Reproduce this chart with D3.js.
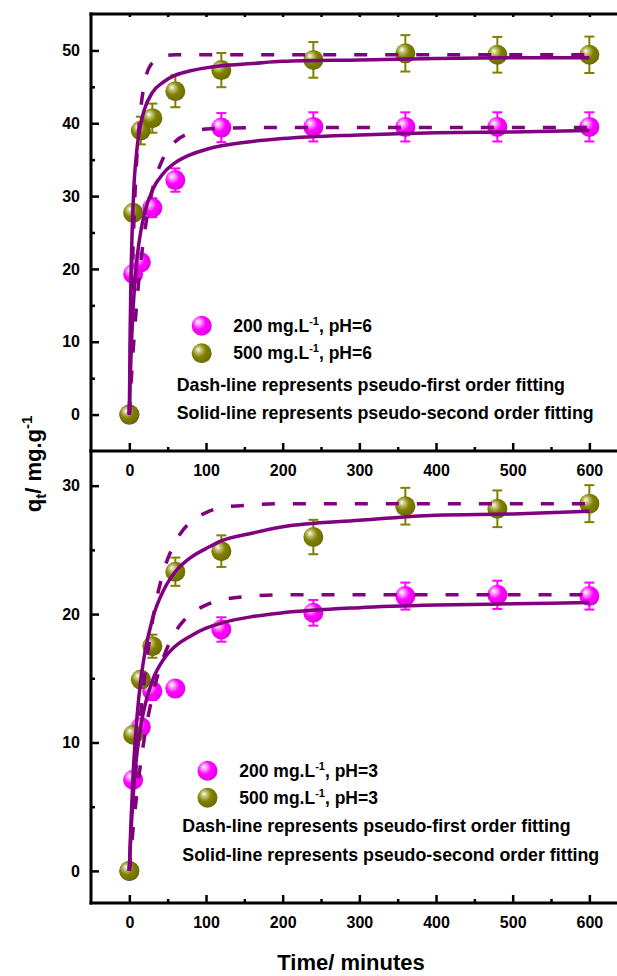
<!DOCTYPE html>
<html>
<head>
<meta charset="utf-8">
<script src="https://d3js.org/d3.v7.min.js"></script>
<style>
body { margin: 0; background: #fff; }
svg { display: block; font-family: Arial, "Liberation Sans", sans-serif; font-weight: bold; }
</style>
</head>
<body>
<svg id="viz" width="617" height="976"></svg>
<script>
// sampling times, minutes
var times = [0, 5, 15, 30, 60, 120, 240, 360, 480, 600];

// pH = 6 (upper panel)
var q200pH6 = [0, 19.3, 20.9, 28.4, 32.2, 39.4, 39.5, 39.5, 39.5, 39.5];
var err200pH6 = [0, 0.5, 0.5, 1.3, 1.6, 2.0, 2.0, 2.0, 2.0, 2.0];
var q500pH6 = [0, 27.7, 39.0, 40.7, 44.4, 47.3, 48.7, 49.6, 49.4, 49.4];
var err500pH6 = [0, 0.8, 1.9, 2.0, 2.2, 2.35, 2.45, 2.5, 2.45, 2.5];

// pH = 3 (lower panel)
var q200pH3 = [0, 7.1, 11.2, 14.0, 14.2, 18.8, 20.1, 21.4, 21.5, 21.4];
var err200pH3 = [0, 0.3, 0.6, 0.7, 0, 0.95, 1.0, 1.05, 1.1, 1.05];
var q500pH3 = [0, 10.6, 14.9, 17.5, 23.3, 24.9, 26.0, 28.4, 28.2, 28.6];
var err500pH3 = [0, 0.5, 0.6, 0.9, 1.1, 1.23, 1.34, 1.43, 1.43, 1.44];

// fitted curves
var fitTimes = [0, 1, 2, 5, 10, 15, 20, 30, 45, 60, 80, 100, 120, 160, 200, 300, 400, 500, 600];
var pfo200pH6 = [0, 1.9, 3.8, 8.8, 15.7, 21.0, 25.1, 30.8, 35.4, 37.5, 38.7, 39.2, 39.3, 39.4, 39.4, 39.4, 39.4, 39.4, 39.4];
var pfo500pH6 = [0, 5.9, 11.2, 23.4, 35.7, 42.1, 45.6, 48.3, 49.2, 49.4, 49.4, 49.4, 49.4, 49.4, 49.4, 49.4, 49.4, 49.4, 49.4];
var pso200pH6 = [0, 4.2, 7.5, 14.7, 21.4, 25.2, 27.7, 30.8, 33.2, 34.6, 35.7, 36.4, 36.9, 37.5, 37.9, 38.4, 38.7, 38.8, 39.0];
var pso500pH6 = [0, 11.0, 17.9, 29.0, 36.5, 40.0, 42.0, 44.2, 45.7, 46.6, 47.2, 47.6, 47.9, 48.2, 48.5, 48.7, 48.9, 49.0, 49.0];
var pfo200pH3 = [0, 0.7, 1.4, 3.3, 6.1, 8.5, 10.5, 13.6, 16.7, 18.6, 20.0, 20.7, 21.1, 21.4, 21.5, 21.5, 21.5, 21.5, 21.5];
var pfo500pH3 = [0, 1.1, 2.1, 4.9, 9.0, 12.4, 15.1, 19.4, 23.4, 25.6, 27.2, 27.9, 28.3, 28.5, 28.6, 28.6, 28.6, 28.6, 28.6];
var pso200pH3 = [0, 1.5, 2.8, 5.8, 9.2, 11.3, 12.8, 14.8, 16.5, 17.5, 18.3, 18.9, 19.3, 19.8, 20.1, 20.5, 20.7, 20.8, 20.9];
var pso500pH3 = [0, 1.9, 3.6, 7.6, 12.0, 14.9, 16.9, 19.6, 21.9, 23.3, 24.4, 25.1, 25.7, 26.3, 26.8, 27.3, 27.7, 27.8, 28.0];

var xTicks = [0, 100, 200, 300, 400, 500, 600];
var xMinor = [50, 150, 250, 350, 450, 550];
var xTopTicks = [0, 50, 100, 150, 200, 250, 300, 350, 400, 450, 500, 550, 600];
var yTicksTop = [0, 10, 20, 30, 40, 50];
var yMinorTop = [5, 15, 25, 35, 45];
var yTicksBottom = [0, 10, 20, 30];
var yMinorBottom = [5, 15, 25];

var svg = d3.select("#viz");
var lineColor = "#800080";
var colors = {m: "#ff00ff", o: "#808000"};

// sphere look for the markers
var defs = svg.append("defs");
function ball(id, light, base, dark) {
    var g = defs.append("radialGradient").attr("id", id)
        .attr("cx", "40%").attr("cy", "40%").attr("r", "62%")
        .attr("fx", "32%").attr("fy", "30%");
    g.append("stop").attr("offset", "0%").attr("stop-color", "#ffffff");
    g.append("stop").attr("offset", "22%").attr("stop-color", light);
    g.append("stop").attr("offset", "55%").attr("stop-color", base);
    g.append("stop").attr("offset", "100%").attr("stop-color", dark);
}
ball("ballM", "#ff9cff", "#ff00ff", "#e400e4");
ball("ballO", "#c4c47a", "#808000", "#6c6c00");

var x = d3.scaleLinear().domain([-50, 650]).range([91, 627.7]);

function panel(cfg) {
    var y = d3.scaleLinear().domain(cfg.yDomain).range(cfg.yRange);
    var g = svg.append("g");
    var top = cfg.yRange[1], bottom = cfg.yRange[0];

    // left axis: major + minor ticks pointing in
    g.append("g").attr("class", "y axis")
        .attr("transform", "translate(" + x(-50) + ",0)")
        .call(d3.axisLeft(y).tickValues(cfg.yTicks).tickSize(-8).tickPadding(11).tickFormat(d3.format("d")));
    g.append("g").attr("class", "y minor")
        .attr("transform", "translate(" + x(-50) + ",0)")
        .call(d3.axisLeft(y).tickValues(cfg.yMinor).tickSize(-4).tickFormat(""));

    // bottom axis: ticks up, labels below
    g.append("g").attr("class", "x axis")
        .attr("transform", "translate(0," + bottom + ")")
        .call(d3.axisBottom(x).tickValues(xTicks).tickSize(-8).tickPadding(13.5).tickFormat(cfg.xLabels ? d3.format("d") : ""));
    g.append("g").attr("class", "x minor")
        .attr("transform", "translate(0," + bottom + ")")
        .call(d3.axisBottom(x).tickValues(xMinor).tickSize(-4).tickFormat(""));

    if (cfg.topAxis) {
        g.append("g").attr("class", "x minor")
            .attr("transform", "translate(0," + top + ")")
            .call(d3.axisTop(x).tickValues(xTopTicks).tickSize(-3).tickFormat(""));
    }
    g.selectAll(".domain").remove();
    g.selectAll(".tick line").attr("stroke", "#000").attr("stroke-width", 2.5);
    g.selectAll(".tick text").attr("font-size", 16).attr("font-weight", "bold")
        .attr("font-family", "Arial, 'Liberation Sans', sans-serif").attr("fill", "#000");

    // frame lines
    g.append("line").attr("x1", x(-50)).attr("x2", x(-50)).attr("y1", top - 1.5).attr("y2", bottom + 1.5)
        .attr("stroke", "#000").attr("stroke-width", 3);
    g.append("line").attr("x1", x(-50) - 1.5).attr("x2", x(650)).attr("y1", bottom).attr("y2", bottom)
        .attr("stroke", "#000").attr("stroke-width", 3);
    if (cfg.topAxis) {
        g.append("line").attr("x1", x(-50) - 1.5).attr("x2", x(650)).attr("y1", top).attr("y2", top)
            .attr("stroke", "#000").attr("stroke-width", 3);
    }

    // points with error bars
    cfg.series.forEach(function(s) {
        var pts = times.map(function(t, i) { return {t: t, q: s.q[i], e: s.e[i]}; });
        var eg = g.append("g").attr("stroke", s.color).attr("stroke-width", 2);
        pts.filter(function(d) { return d.e > 0.4; }).forEach(function(d) {
            eg.append("line").attr("x1", x(d.t)).attr("x2", x(d.t)).attr("y1", y(d.q - d.e)).attr("y2", y(d.q + d.e));
            eg.append("line").attr("x1", x(d.t) - 5).attr("x2", x(d.t) + 5).attr("y1", y(d.q - d.e)).attr("y2", y(d.q - d.e));
            eg.append("line").attr("x1", x(d.t) - 5).attr("x2", x(d.t) + 5).attr("y1", y(d.q + d.e)).attr("y2", y(d.q + d.e));
        });
    });
    cfg.series.forEach(function(s) {
        g.append("g").selectAll("circle")
            .data(times.map(function(t, i) { return {t: t, q: s.q[i]}; }))
            .enter().append("circle")
            .attr("cx", function(d) { return x(d.t); })
            .attr("cy", function(d) { return y(d.q); })
            .attr("r", 10)
            .attr("fill", "url(#" + s.grad + ")");
    });

    // fitted curves
    var line = d3.line()
        .x(function(d) { return x(d[0]); })
        .y(function(d) { return y(d[1]); })
        .curve(d3.curveMonotoneX);
    cfg.fits.forEach(function(f) {
        g.append("path")
            .datum(fitTimes.map(function(t, i) { return [t, f.q[i]]; }))
            .attr("d", line)
            .attr("fill", "none")
            .attr("stroke", lineColor)
            .attr("stroke-width", 3.5)
            .attr("stroke-dasharray", f.dash ? "13,18" : null);
    });

    // legend
    var L = cfg.legend;
    cfg.series.forEach(function(s, i) {
        g.append("circle").attr("cx", L.ballX).attr("cy", L.ballY[i]).attr("r", 10)
            .attr("fill", "url(#" + s.grad + ")");
        var t = g.append("text").attr("x", L.textX).attr("y", L.textY[i]).attr("font-size", 17.5);
        t.append("tspan").text(s.conc + " mg.L");
        t.append("tspan").attr("font-size", 11).attr("dy", -7).text("-1");
        t.append("tspan").attr("dy", 7).text(", pH=" + cfg.pH);
    });
    g.append("text").attr("x", L.noteX).attr("y", L.noteY[0]).attr("font-size", 17.8)
        .text("Dash-line represents pseudo-first order fitting");
    g.append("text").attr("x", L.noteX).attr("y", L.noteY[1]).attr("font-size", 17.8)
        .text("Solid-line represents pseudo-second order fitting");
}

panel({
    yDomain: [-5, 55], yRange: [451, 14],
    yTicks: yTicksTop, yMinor: yMinorTop,
    xLabels: true, topAxis: true, pH: 6,
    series: [
        {q: q200pH6, e: err200pH6, color: colors.m, grad: "ballM", conc: "200"},
        {q: q500pH6, e: err500pH6, color: colors.o, grad: "ballO", conc: "500"}
    ],
    fits: [
        {q: pfo200pH6, dash: true}, {q: pfo500pH6, dash: true},
        {q: pso200pH6, dash: false}, {q: pso500pH6, dash: false}
    ],
    legend: {ballX: 201.7, ballY: [325.7, 353.3], textX: 233.3, textY: [331.7, 359.3], noteX: 176.7, noteY: [390.7, 419]}
});

panel({
    yDomain: [-2.5, 32.7], yRange: [903, 451],
    yTicks: yTicksBottom, yMinor: yMinorBottom,
    xLabels: true, topAxis: false, pH: 3,
    series: [
        {q: q200pH3, e: err200pH3, color: colors.m, grad: "ballM", conc: "200"},
        {q: q500pH3, e: err500pH3, color: colors.o, grad: "ballO", conc: "500"}
    ],
    fits: [
        {q: pfo200pH3, dash: true}, {q: pfo500pH3, dash: true},
        {q: pso200pH3, dash: false}, {q: pso500pH3, dash: false}
    ],
    legend: {ballX: 207.5, ballY: [770.7, 797.7], textX: 239.3, textY: [776.7, 804.3], noteX: 182.3, noteY: [831.7, 860.7]}
});

// axis titles
svg.append("text").attr("x", 351).attr("y", 970).attr("text-anchor", "middle")
    .attr("font-size", 22).text("Time/ minutes");

var yt = svg.append("text").attr("transform", "translate(41,464) rotate(-90)")
    .attr("text-anchor", "middle").attr("font-size", 22);
yt.append("tspan").text("q");
yt.append("tspan").attr("font-size", 15).attr("dy", 5).text("t");
yt.append("tspan").attr("dy", -5).text("/ mg.g");
yt.append("tspan").attr("font-size", 15).attr("dy", -9).text("-1");
</script>
</body>
</html>
